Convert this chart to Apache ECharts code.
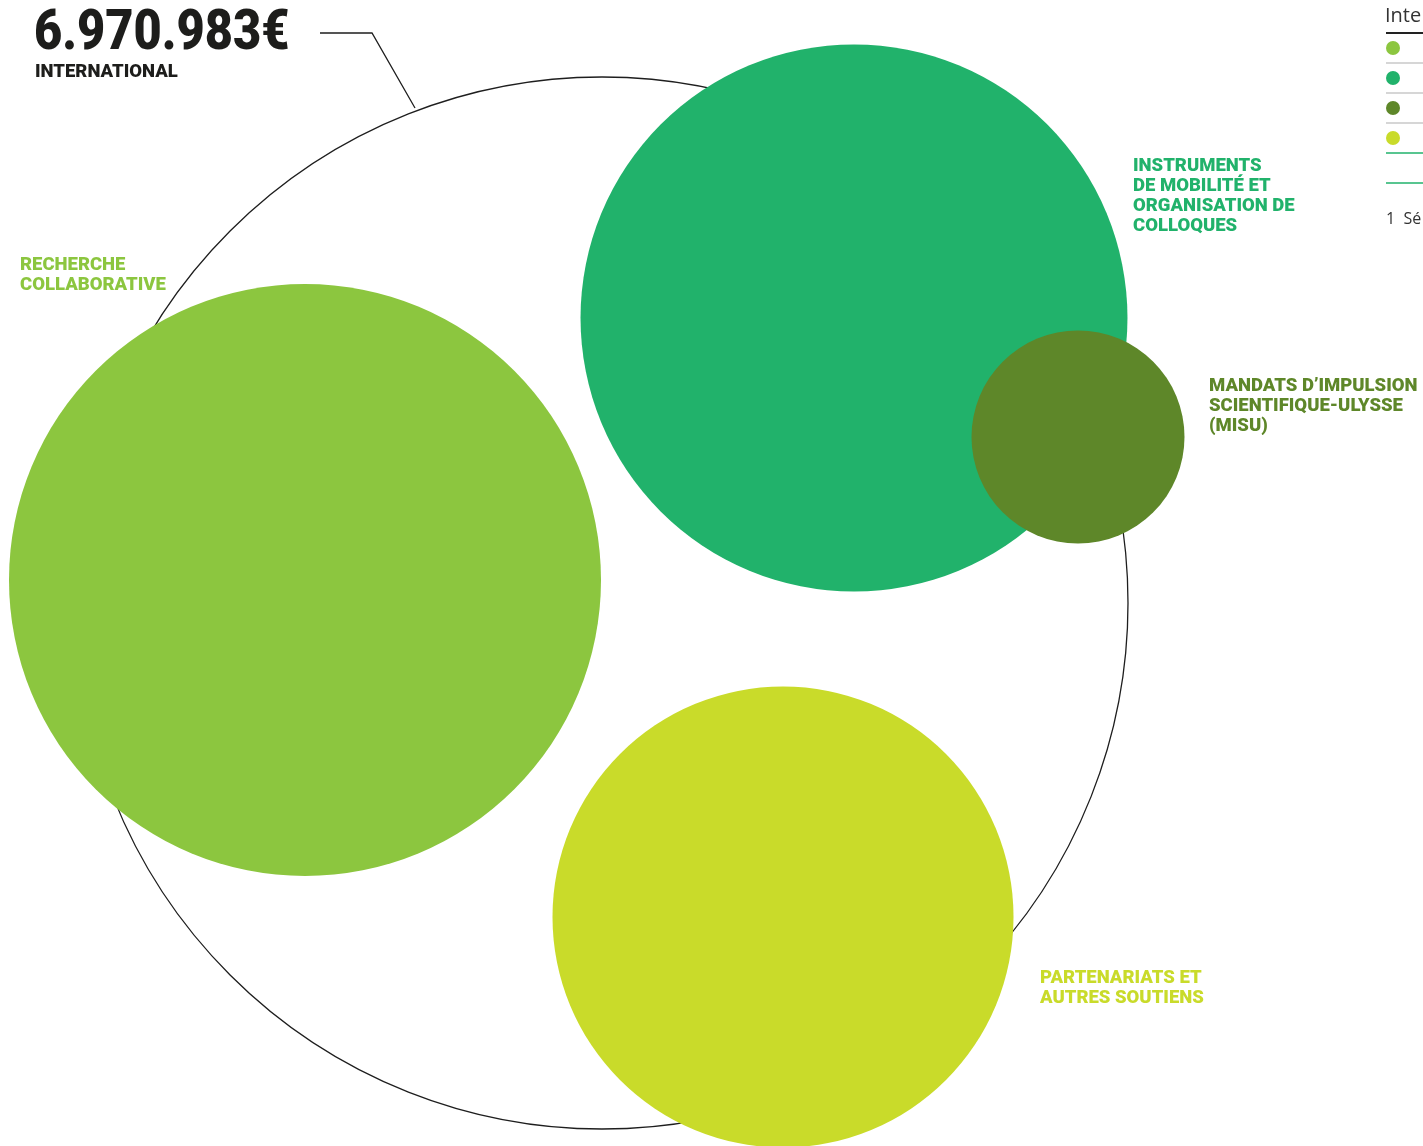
<!DOCTYPE html>
<html>
<head>
<meta charset="utf-8">
<script src="https://cdn.jsdelivr.net/npm/echarts@6/dist/echarts.min.js"></script>
<style>html,body{margin:0;padding:0;background:#fff}#c{width:1423px;height:1146px}</style>
</head>
<body>
<div id="c"></div>
<script>
// ---- data ----
const totalLabel = '6.970.983€';
const totalName = 'INTERNATIONAL';
const totalValue = 6970983;
const categories = ['RECHERCHE\nCOLLABORATIVE', 'INSTRUMENTS\nDE MOBILITÉ ET\nORGANISATION DE\nCOLLOQUES', 'MANDATS D’IMPULSION\nSCIENTIFIQUE-ULYSSE\n(MISU)', 'PARTENARIATS ET\nAUTRES SOUTIENS'];
const values = [2692000, 2298000, 348500, 1632483];
const colors = ['#8cc63f', '#21b26b', '#5e8729', '#c9db2a'];
// layout (bubble centres in chart units)
const centres = [[305, 580], [854, 318], [1078, 437], [783, 917]];
const outlineCentre = [602, 603];
const legendTitle = 'Inte';
const footnote = '1  Sé';

const chart = echarts.init(document.getElementById('c'));
const scaleR = 296 / Math.sqrt(values[0]);
const bubbleData = values.map((v, i) => ({
  name: categories[i], value: [centres[i][0], centres[i][1], v],
  itemStyle: { color: colors[i] }
}));

const labelPos = [[20, 265], [1133, 166], [1209, 386], [1040, 978]];
const texts = categories.map((c, i) => ({
  type: 'text', left: labelPos[i][0], top: labelPos[i][1] - 10,
  style: { text: c, fontFamily: 'Roboto', fontWeight: 900, fontSize: 18.5, fill: colors[i], lineHeight: 20 }
}));

const legendItems = [];
colors.forEach((c, i) => {
  legendItems.push({ type: 'circle', shape: { cx: 1393, cy: 48 + i * 30, r: 7 }, style: { fill: c } });
  if (i < 3) legendItems.push({ type: 'line', shape: { x1: 1386, y1: 63 + i * 30, x2: 1423, y2: 63 + i * 30 }, style: { stroke: '#c8c8c8', lineWidth: 1.5 } });
});

chart.setOption({
  animation: false,
  grid: { left: 0, right: 0, top: 0, bottom: 0 },
  xAxis: { type: 'value', min: 0, max: 1423, show: false },
  yAxis: { type: 'value', min: 0, max: 1146, inverse: true, show: false },
  series: [
    {
      type: 'scatter', z: 1, silent: true,
      data: [{ name: totalName, value: [outlineCentre[0], outlineCentre[1], totalValue] }],
      symbolSize: 1052,
      itemStyle: { color: 'rgba(0,0,0,0)', borderColor: '#1e1e1e', borderWidth: 1.3, opacity: 1 }
    },
    {
      type: 'scatter', z: 2, silent: true,
      data: bubbleData,
      symbolSize: d => 2 * scaleR * Math.sqrt(d[2]),
      itemStyle: { opacity: 1 }
    }
  ],
  graphic: [
    { type: 'text', left: 34, top: 7, scaleX: 0.87, style: { text: totalLabel, fontFamily: 'Roboto', fontWeight: 900, fontSize: 56, fill: '#1d1d1b' } },
    { type: 'text', left: 35, top: 63, style: { text: totalName, fontFamily: 'Roboto', fontWeight: 900, fontSize: 18.5, fill: '#1d1d1b' } },
    { type: 'polyline', shape: { points: [[320, 33], [372, 33], [415, 108]] }, style: { stroke: '#1e1e1e', lineWidth: 1.3, fill: null } },
    ...texts,
    { type: 'text', left: 1385, top: 6, style: { text: legendTitle, fontFamily: 'Open Sans', fontSize: 20, fill: '#333' } },
    { type: 'line', shape: { x1: 1386, y1: 33, x2: 1423, y2: 33 }, style: { stroke: '#222', lineWidth: 2 } },
    ...legendItems,
    { type: 'line', shape: { x1: 1386, y1: 153, x2: 1423, y2: 153 }, style: { stroke: '#21b26b', lineWidth: 1.5 } },
    { type: 'line', shape: { x1: 1386, y1: 183, x2: 1423, y2: 183 }, style: { stroke: '#21b26b', lineWidth: 1.5 } },
    { type: 'text', left: 1386, top: 211, style: { text: footnote, fontFamily: 'Open Sans', fontSize: 16, fill: '#333' } }
  ]
});
</script>
</body>
</html>
